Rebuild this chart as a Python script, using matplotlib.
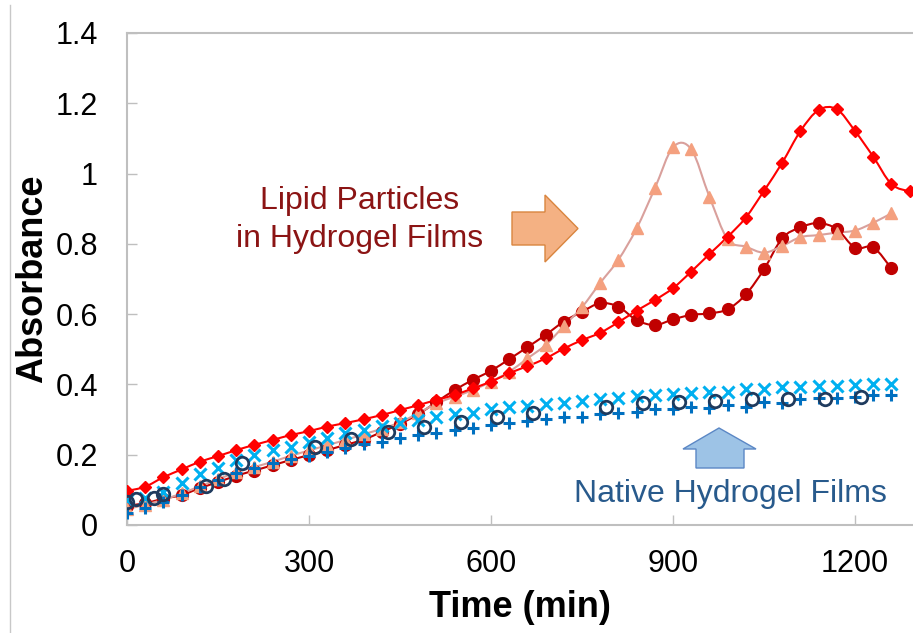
import numpy as np
import matplotlib
matplotlib.use('Agg')
import matplotlib.pyplot as plt
from matplotlib.path import Path
from matplotlib.patches import PathPatch, Polygon
from matplotlib.lines import Line2D

plt.rcParams['font.family'] = ['Liberation Sans', 'DejaVu Sans']

# tiempos (min)
t_red = [0, 30, 60, 90, 120, 150, 180, 210, 240, 270, 300, 330, 360, 390, 420,
         450, 480, 510, 540, 570, 600, 630, 660, 690, 720, 750, 780, 810, 840,
         870, 900, 930, 960, 990, 1020, 1050, 1080, 1110, 1140, 1170, 1200,
         1230, 1260, 1290]
t_main = t_red[:-1]
t_circ = [0, 15, 45, 60, 130, 160, 190, 310, 370, 430, 490, 550, 610, 670,
          790, 850, 910, 970, 1030, 1090, 1150, 1210]

# particulas lipidicas
abs_diamond = [0.097, 0.109, 0.136, 0.158, 0.180, 0.196, 0.213, 0.228, 0.242,
               0.256, 0.267, 0.280, 0.290, 0.301, 0.313, 0.327, 0.341, 0.356,
               0.370, 0.389, 0.408, 0.432, 0.452, 0.474, 0.502, 0.526, 0.547,
               0.577, 0.610, 0.640, 0.674, 0.721, 0.771, 0.820, 0.875, 0.951,
               1.031, 1.121, 1.181, 1.183, 1.121, 1.048, 0.970, 0.949]
abs_dot = [0.055, 0.062, 0.075, 0.085, 0.105, 0.122, 0.140, 0.155, 0.170,
           0.185, 0.199, 0.213, 0.228, 0.243, 0.265, 0.288, 0.315, 0.350,
           0.384, 0.413, 0.439, 0.472, 0.506, 0.541, 0.579, 0.607, 0.631,
           0.621, 0.583, 0.569, 0.585, 0.598, 0.602, 0.614, 0.656, 0.728,
           0.816, 0.847, 0.859, 0.842, 0.789, 0.790, 0.730]
abs_tri = [0.045, 0.058, 0.072, 0.090, 0.110, 0.130, 0.150, 0.165, 0.180,
           0.197, 0.212, 0.227, 0.242, 0.258, 0.274, 0.292, 0.318, 0.346,
           0.365, 0.384, 0.408, 0.436, 0.474, 0.512, 0.566, 0.620, 0.689,
           0.755, 0.844, 0.958, 1.075, 1.069, 0.934, 0.813, 0.792, 0.775,
           0.794, 0.819, 0.825, 0.832, 0.838, 0.860, 0.887]

# films nativos
abs_x = [0.071, 0.076, 0.093, 0.119, 0.145, 0.161, 0.185, 0.199, 0.213, 0.223,
         0.237, 0.247, 0.261, 0.271, 0.283, 0.290, 0.300, 0.308, 0.317, 0.320,
         0.329, 0.335, 0.339, 0.344, 0.348, 0.354, 0.358, 0.361, 0.367, 0.370,
         0.373, 0.375, 0.379, 0.379, 0.386, 0.386, 0.392, 0.392, 0.396, 0.396,
         0.398, 0.401, 0.401]
abs_plus = [0.033, 0.047, 0.066, 0.085, 0.108, 0.128, 0.147, 0.161, 0.176,
            0.187, 0.196, 0.209, 0.220, 0.230, 0.237, 0.247, 0.256, 0.263,
            0.270, 0.275, 0.285, 0.289, 0.297, 0.301, 0.307, 0.308, 0.316,
            0.318, 0.322, 0.330, 0.329, 0.337, 0.332, 0.341, 0.337, 0.351,
            0.346, 0.358, 0.360, 0.360, 0.365, 0.370, 0.370]
abs_circ = [0.066, 0.073, 0.076, 0.088, 0.111, 0.130, 0.177, 0.222, 0.244,
            0.266, 0.279, 0.294, 0.308, 0.318, 0.337, 0.346, 0.351, 0.354,
            0.358, 0.358, 0.358, 0.363]

x_ticks = [0, 300, 600, 900, 1200]
x_labels = ['0', '300', '600', '900', '1200']
y_ticks = [0, 0.2, 0.4, 0.6, 0.8, 1.0, 1.2, 1.4]
y_labels = ['0', '0.2', '0.4', '0.6', '0.8', '1', '1.2', '1.4']


def linea_suave(ax, x, y, color, lw):
    # curva tipo Excel (Catmull-Rom -> Bezier)
    p = np.column_stack([x, y]).astype(float)
    verts = [p[0]]
    codes = [Path.MOVETO]
    n = len(p)
    for i in range(n - 1):
        p0 = p[i - 1] if i > 0 else p[i]
        p3 = p[i + 2] if i + 2 < n else p[i + 1]
        c1 = p[i] + (p[i + 1] - p0) / 6.0
        c2 = p[i + 1] - (p3 - p[i]) / 6.0
        verts += [c1, c2, p[i + 1]]
        codes += [Path.CURVE4] * 3
    ax.add_patch(PathPatch(Path(verts, codes), fill=False, edgecolor=color,
                           lw=lw, transform=ax.transData, zorder=2))


W, H = 913, 633
fig = plt.figure(figsize=(W / 100, H / 100), dpi=100)
ax = fig.add_axes([127 / W, 1 - 525 / H, (W - 127) / W, 492 / H])

linea_suave(ax, t_main, abs_dot, '#C00000', 1.5)
ax.plot(t_main, abs_dot, 'o', color='#C00000', ms=8.5, zorder=3)
linea_suave(ax, t_main, abs_tri, '#D9A09C', 1.5)
ax.plot(t_main, abs_tri, '^', color='#F4A07F', ms=8.5, zorder=3)
linea_suave(ax, t_red, abs_diamond, '#FF0000', 1.5)
ax.plot(t_red, abs_diamond, 'D', color='#FF0000', ms=6.5, zorder=3)

ax.plot(t_main, abs_x, 'x', color='#00B0F0', ms=8, mew=2.2, zorder=4)
ax.plot(t_main, abs_plus, '+', color='#0070C0', ms=8, mew=2.2, zorder=4)
ax.plot(t_circ, abs_circ, 'o', mfc='none', mec='#1F3B5E', ms=9, mew=2,
        zorder=5)

ax.set_xlim(0, (W - 127) / 0.6067)
ax.set_ylim(0, 1.4)
ax.set_xticks(x_ticks)
ax.set_xticklabels(x_labels)
ax.set_yticks(y_ticks)
ax.set_yticklabels(y_labels)
ax.tick_params(direction='in', length=7, width=1, color='#BFBFBF',
               labelsize=22, labelcolor='black')
ax.tick_params(axis='x', pad=17)
ax.tick_params(axis='y', pad=21)
for s in ['left', 'bottom', 'top']:
    ax.spines[s].set_color('#BFBFBF')
    ax.spines[s].set_linewidth(1.5)
ax.spines['right'].set_visible(False)

ax.set_xlabel('Time (min)', fontsize=26, fontweight='bold')
ax.xaxis.set_label_coords(0.5, -0.132)
ax.set_ylabel('Absorbance', fontsize=26, fontweight='bold')
ax.yaxis.set_label_coords(-0.098, 0.5)

# textos
fig.text(360 / W, 1 - 209 / H, 'Lipid Particles', ha='center', va='baseline',
         fontsize=23, color='#8B1414')
fig.text(360 / W, 1 - 247 / H, 'in Hydrogel Films', ha='center',
         va='baseline', fontsize=23, color='#8B1414')
fig.text(730 / W, 1 - 502 / H, 'Native Hydrogel Films', ha='center',
         va='baseline', fontsize=23, color='#285A8C')

# flechas
naranja = [(512, 212), (545, 212), (545, 195), (578, 228.5), (545, 262),
           (545, 245), (512, 245)]
azul = [(719, 428), (756, 449), (744, 449), (744, 468), (696, 468),
        (696, 449), (683, 449)]
fig.patches.append(Polygon([(x / W, 1 - y / H) for x, y in naranja],
                           closed=True, facecolor='#F4B183',
                           edgecolor='#D9853F', lw=1,
                           transform=fig.transFigure))
fig.patches.append(Polygon([(x / W, 1 - y / H) for x, y in azul],
                           closed=True, facecolor='#9DC3E6',
                           edgecolor='#5B87C5', lw=1,
                           transform=fig.transFigure))

fig.lines.append(Line2D([10 / W, 10 / W], [0, 1 - 5 / H], color='#C8C8C8',
                        lw=1, transform=fig.transFigure))

fig.savefig('out.png', dpi=100)
